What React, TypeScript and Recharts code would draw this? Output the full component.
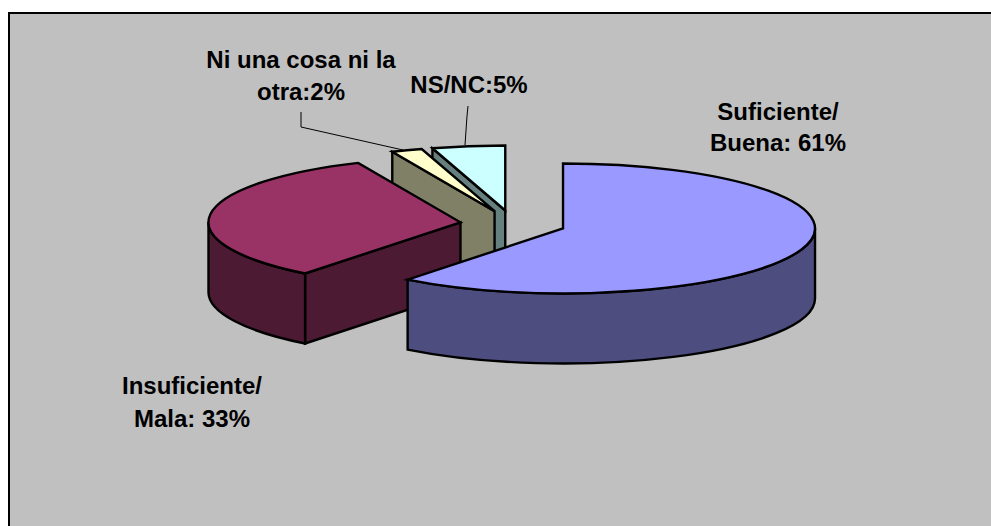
import { PieChart, Pie } from "recharts";

const categories = ["NS/NC", "Ni una cosa ni la otra", "Insuficiente/Mala", "Suficiente/Buena"];
const shares = [4.7, 2, 33, 61];
const topColors = ["#CCFFFF", "#FFFFCC", "#993366", "#9999FF"];
const sideColors = ["#668080", "#808066", "#4D1A33", "#4D4D80"];
const labelLines = [["NS/NC:5%"], ["Ni una cosa ni la", "otra:2%"], ["Insuficiente/", "Mala: 33%"], ["Suficiente/", "Buena: 61%"]];

const data = categories.map((name, i) => ({ name, value: shares[i], top: topColors[i], side: sideColors[i] }));

// 3d look of the excel pie
const RX = 252;
const RY = 65;
const DEPTH = 70;
const EXPLODE = 0.21;

const labelBoxes = [
  { x: 469, baselines: [93], leader: "M468 106 L467 116 L465 145" },
  { x: 301, baselines: [68, 100], leader: "M301 112 L301 127 L403 150" },
  { x: 192, baselines: [394, 427], leader: "" },
  { x: 778, baselines: [120, 151], leader: "" },
];

function Slice3D(props: any) {
  const { cx, cy, startAngle, endAngle, payload } = props;
  // clockwise from 12 o'clock
  const from = 450 - endAngle;
  const to = 450 - startAngle;
  const mid = ((from + to) / 2) * (Math.PI / 180);
  const ox = cx + EXPLODE * RX * Math.sin(mid);
  const oy = cy - EXPLODE * RY * Math.cos(mid);
  const pt = (deg: number, dy = 0) => {
    const a = (deg * Math.PI) / 180;
    return `${ox + RX * Math.sin(a)} ${oy - RY * Math.cos(a) + dy}`;
  };
  const line = { stroke: "#000", strokeWidth: 2.4, strokeLinejoin: "miter" as const };

  const wallFrom = Math.max(from, 90);
  const wallTo = Math.min(to, 270);
  const large = to - from > 180 ? 1 : 0;

  return (
    <g>
      {Math.sin((from * Math.PI) / 180) < -0.001 && (
        <path d={`M${ox} ${oy} L${pt(from)} L${pt(from, DEPTH)} L${ox} ${oy + DEPTH} Z`} fill={payload.side} {...line} />
      )}
      {Math.sin((to * Math.PI) / 180) > 0.001 && (
        <path d={`M${ox} ${oy} L${pt(to)} L${pt(to, DEPTH)} L${ox} ${oy + DEPTH} Z`} fill={payload.side} {...line} />
      )}
      {wallTo > wallFrom && (
        <path
          d={`M${pt(wallFrom)} A${RX} ${RY} 0 0 1 ${pt(wallTo)} L${pt(wallTo, DEPTH)} A${RX} ${RY} 0 0 0 ${pt(wallFrom, DEPTH)} Z`}
          fill={payload.side}
          {...line}
        />
      )}
      <path d={`M${ox} ${oy} L${pt(from)} A${RX} ${RY} 0 ${large} 1 ${pt(to)} Z`} fill={payload.top} {...line} />
    </g>
  );
}

function SliceLabel({ index }: any) {
  const box = labelBoxes[index];
  return (
    <g>
      {box.leader && <path d={box.leader} fill="none" stroke="#000" strokeWidth={1} />}
      <text
        textAnchor="middle"
        fontFamily="'Liberation Sans', Arial, sans-serif"
        fontWeight="bold"
        fontSize={24}
        fill="#000"
      >
        {labelLines[index].map((t, i) => (
          <tspan key={t} x={box.x} y={box.baselines[i]}>
            {t}
          </tspan>
        ))}
      </text>
    </g>
  );
}

export default function App() {
  return (
    <div style={{ position: "fixed", left: 0, top: 0, width: 991, height: 526, background: "#fff", overflow: "hidden" }}>
      <div
        style={{
          position: "absolute",
          left: 8,
          top: 12,
          right: 0,
          bottom: 0,
          background: "#C0C0C0",
          borderLeft: "2px solid #000",
          borderTop: "2px solid #000",
        }}
      />
      <div style={{ position: "absolute", left: 0, top: 0 }}>
        <PieChart width={991} height={526} margin={{ top: 0, right: 0, bottom: 0, left: 0 }}>
          <Pie
            data={data}
            dataKey="value"
            nameKey="name"
            cx={513}
            cy={224}
            innerRadius={0}
            outerRadius={RX}
            startAngle={90}
            endAngle={450}
            shape={Slice3D}
            label={SliceLabel}
            labelLine={false}
            isAnimationActive={false}
          />
        </PieChart>
      </div>
    </div>
  );
}
